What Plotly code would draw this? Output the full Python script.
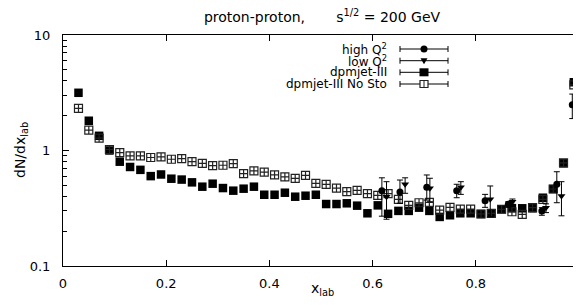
import plotly.graph_objects as go

# ---------------- data ----------------
x_bins = [round(0.03 + 0.02 * i, 2) for i in range(49)]

dpmjet = [3.16, 1.81, 1.34, 1.00, 0.80, 0.72, 0.68, 0.60, 0.62, 0.57,
          0.56, 0.53, 0.486, 0.516, 0.473, 0.449, 0.467, 0.486, 0.414, 0.414,
          0.431, 0.398, 0.406, 0.414, 0.344, 0.344, 0.349, 0.333, 0.286, 0.335,
          0.283, 0.30, 0.30, 0.32, 0.30, 0.266, 0.275, 0.286, 0.286, 0.282,
          0.286, 0.31, 0.316, 0.316, 0.316, 0.39, 0.464, 0.775, 3.9]

dpmjet_nosto = [2.32, 1.50, 1.28, 1.02, 0.96, 0.90, 0.90, 0.87, 0.88, 0.84,
                0.85, 0.80, 0.775, 0.739, 0.745, 0.769, 0.63, 0.665, 0.651, 0.614,
                0.59, 0.574, 0.61, 0.52, 0.51, 0.473, 0.44, 0.452, 0.423, 0.409,
                0.423, 0.378, 0.335, 0.353, 0.356, 0.305, 0.322, 0.311, 0.311, 0.282,
                0.286, 0.31, 0.295, 0.28, 0.32, 0.378, 0.464, 0.78, 3.7]

highq2_x = [0.618, 0.653, 0.705, 0.763, 0.818, 0.863, 0.928, 0.957, 0.987]
highq2_y = [0.449, 0.437, 0.48, 0.449, 0.368, 0.342, 0.30, 0.51, 2.49]
highq2_top = [0.58, 0.555, 0.614, 0.51, 0.417, 0.36, 0.32, 0.655, 3.08]
highq2_bot = [0.27, 0.349, 0.372, 0.39, 0.322, 0.322, 0.275, 0.353, 1.89]

lowq2_x = [0.627, 0.663, 0.711, 0.771, 0.828, 0.871, 0.936, 0.966, 0.997]
lowq2_y = [0.398, 0.51, 0.47, 0.48, 0.378, 0.36, 0.32, 0.404, 3.57]
lowq2_top = [0.537, 0.58, 0.575, 0.537, 0.493, 0.38, 0.345, 0.537, 4.35]
lowq2_bot = [0.254, 0.426, 0.36, 0.417, 0.267, 0.342, 0.29, 0.272, 2.92]

x_tickvals = [0, 0.2, 0.4, 0.6, 0.8, 1]
x_ticktext = ["0", "0.2", "0.4", "0.6", "0.8", "1"]
y_tickvals = [0.1, 1, 10]
y_ticktext = ["0.1", "1", "10"]
y_minor = [m * 10 ** e for e in (-1, 0) for m in range(2, 10)]

legend_labels = ["high Q<sup>2</sup>", "low Q<sup>2</sup>", "dpmjet-III", "dpmjet-III No Sto"]

# ---------------- layout constants ----------------
# the page body has an 8px default margin, so the figure is drawn 8px in from the window edge
OFF = 8
W, H = 581, 305
PLOT_L, PLOT_R, PLOT_T, PLOT_B = 63, 579, 35, 266   # plot frame in window pixels
L, R, T, B = PLOT_L - OFF, W - (PLOT_R - OFF), PLOT_T - OFF, H - (PLOT_B - OFF)
PW, PH = PLOT_R - PLOT_L, PLOT_B - PLOT_T
FONT = "DejaVu Sans"
FS = 13


def px(xp):
    return (xp - PLOT_L) / PW


def py(yp):
    return (PLOT_B - yp) / PH


fig = go.Figure()

fig.add_trace(go.Scatter(
    x=x_bins, y=dpmjet, mode="markers", name="dpmjet-III",
    marker=dict(symbol="square", size=8.5, color="black", line=dict(width=0)),
    showlegend=False, cliponaxis=False))

fig.add_trace(go.Scatter(
    x=x_bins, y=dpmjet_nosto, mode="markers", name="dpmjet-III No Sto",
    marker=dict(symbol="square-cross-open", size=8, color="#222222", line=dict(width=1.2)),
    showlegend=False, cliponaxis=False))

fig.add_trace(go.Scatter(
    x=highq2_x, y=highq2_y, mode="markers", name="high Q2",
    marker=dict(symbol="circle", size=7, color="black"),
    error_y=dict(type="data", symmetric=False,
                 array=[t - v for t, v in zip(highq2_top, highq2_y)],
                 arrayminus=[v - b for v, b in zip(highq2_y, highq2_bot)],
                 color="black", thickness=1, width=3),
    showlegend=False, cliponaxis=False))

fig.add_trace(go.Scatter(
    x=lowq2_x, y=lowq2_y, mode="markers", name="low Q2",
    marker=dict(symbol="triangle-down", size=7, color="black"),
    error_y=dict(type="data", symmetric=False,
                 array=[t - v for t, v in zip(lowq2_top, lowq2_y)],
                 arrayminus=[v - b for v, b in zip(lowq2_y, lowq2_bot)],
                 color="black", thickness=1, width=3),
    showlegend=False, cliponaxis=False))

# ---------------- custom legend (text left, key right) ----------------
shapes = []
annotations = []
rows = [49, 60.7, 72.3, 84]
bx0, bx1, mx = 400, 448, 424
for i, (lab, ry) in enumerate(zip(legend_labels, rows)):
    annotations.append(dict(text=lab, x=px(389), y=py(ry), xref="paper", yref="paper",
                            xanchor="right", yanchor="middle", showarrow=False,
                            font=dict(family=FONT, size=12, color="black")))
    shapes.append(dict(type="line", xref="paper", yref="paper", x0=px(bx0), x1=px(bx1),
                       y0=py(ry), y1=py(ry), line=dict(color="black", width=1)))
    for cx in (bx0, bx1):
        shapes.append(dict(type="line", xref="paper", yref="paper", x0=px(cx), x1=px(cx),
                           y0=py(ry - 3), y1=py(ry + 3), line=dict(color="black", width=1)))
    if i == 0:
        shapes.append(dict(type="circle", xref="paper", yref="paper",
                           x0=px(mx - 3.5), x1=px(mx + 3.5), y0=py(ry + 3.5), y1=py(ry - 3.5),
                           fillcolor="black", line=dict(color="black", width=0)))
    elif i == 1:
        path = "M {} {} L {} {} L {} {} Z".format(px(mx - 3.5), py(ry - 2.5), px(mx + 3.5), py(ry - 2.5),
                                                  px(mx), py(ry + 3.5))
        shapes.append(dict(type="path", xref="paper", yref="paper", path=path,
                           fillcolor="black", line=dict(color="black", width=0)))
    elif i == 2:
        shapes.append(dict(type="rect", xref="paper", yref="paper",
                           x0=px(mx - 4.5), x1=px(mx + 4.5), y0=py(ry + 4), y1=py(ry - 4),
                           fillcolor="black", line=dict(color="black", width=0)))
    else:
        shapes.append(dict(type="rect", xref="paper", yref="paper",
                           x0=px(mx - 4), x1=px(mx + 4), y0=py(ry + 3.5), y1=py(ry - 3.5),
                           fillcolor="white", line=dict(color="#222222", width=1.2)))
        shapes.append(dict(type="line", xref="paper", yref="paper", x0=px(mx), x1=px(mx),
                           y0=py(ry + 3.5), y1=py(ry - 3.5), line=dict(color="#222222", width=1)))

# axis titles
annotations.append(dict(text="x<sub>lab</sub>", x=px(322), y=py(289), xref="paper", yref="paper",
                        xanchor="center", yanchor="middle", showarrow=False,
                        font=dict(family=FONT, size=FS + 1, color="black")))
annotations.append(dict(text="dN/dx<sub>lab</sub>", x=px(21), y=py(150), xref="paper", yref="paper",
                        xanchor="center", yanchor="middle", showarrow=False, textangle=-90,
                        font=dict(family=FONT, size=FS + 1, color="black")))

title_text = "proton-proton," + "\u00a0" * 7 + "s<sup>1/2</sup> = 200 GeV"

fig.update_layout(
    width=W, height=H,
    margin=dict(l=L, r=R, t=T, b=B, pad=0, autoexpand=False),
    paper_bgcolor="white", plot_bgcolor="white",
    showlegend=False,
    title=dict(text=title_text, x=px(322), xref="paper", xanchor="center",
               y=1 - (17 - OFF) / H, yref="container", yanchor="middle",
               font=dict(family=FONT, size=14, color="black")),
    shapes=shapes,
    annotations=annotations,
)

fig.update_xaxes(range=[0, 1], tickvals=x_tickvals, ticktext=x_ticktext,
                 ticks="inside", ticklen=6, tickcolor="black", tickwidth=1,
                 mirror="allticks", showline=True, linecolor="black", linewidth=1,
                 showgrid=False, zeroline=False, ticklabelstandoff=5,
                 tickfont=dict(family=FONT, size=FS, color="black"))

fig.update_yaxes(type="log", range=[-1, 1], tickvals=y_tickvals, ticktext=y_ticktext,
                 ticks="inside", ticklen=6, tickcolor="black", tickwidth=1,
                 mirror="allticks", showline=True, linecolor="black", linewidth=1,
                 showgrid=False, zeroline=False, ticklabelstandoff=9,
                 minor=dict(tickvals=y_minor, ticks="inside", ticklen=3.5,
                            tickcolor="black", tickwidth=1, showgrid=False),
                 tickfont=dict(family=FONT, size=FS, color="black"))

fig.write_html("out.html")
